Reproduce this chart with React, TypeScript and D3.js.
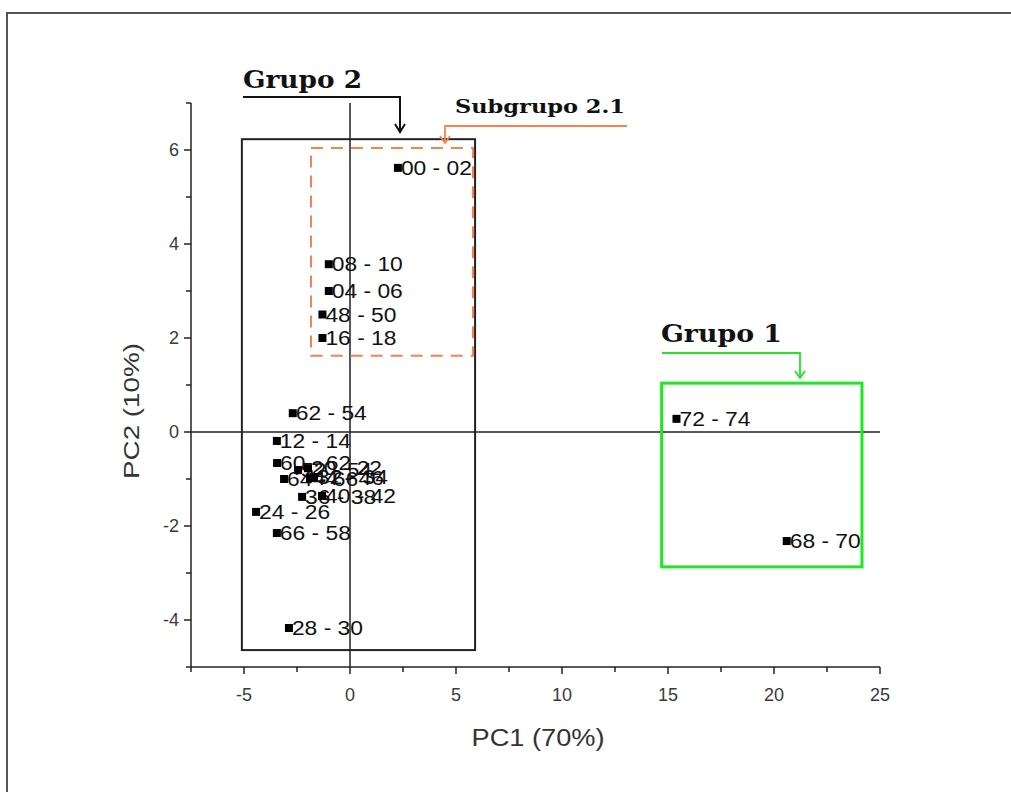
import React from "react";
import * as d3 from "d3";

const pointLabels = [
  "00 - 02", "08 - 10", "04 - 06", "48 - 50", "16 - 18",
  "62 - 54", "12 - 14", "60 - 62", "52 - 54", "20 - 22", "64 - 66", "44 - 46", "32 - 34",
  "36 - 38", "40 - 42", "24 - 26", "66 - 58", "28 - 30", "72 - 74", "68 - 70",
];
const pc1Values = [
  2.26, -1.0, -1.0, -1.3, -1.3,
  -2.7, -3.45, -3.44, -2.45, -1.98, -3.11, -1.89, -1.7,
  -2.26, -1.32, -4.43, -3.45, -2.88, 15.4, 20.6,
];
const pc2Values = [
  5.62, 3.57, 3.0, 2.5, 2.0,
  0.4, -0.19, -0.66, -0.81, -0.77, -1.0, -0.98, -0.96,
  -1.38, -1.36, -1.7, -2.15, -4.17, 0.28, -2.32,
];

const xTicks = [-5, 0, 5, 10, 15, 20, 25];
const xMinorTicks = [-7.5, -2.5, 2.5, 7.5, 12.5, 17.5, 22.5];
const yTicks = [-4, -2, 0, 2, 4, 6];
const yMinorTicks = [-5, -3, -1, 1, 3, 5, 7];

// group boxes in data units: [x0, x1, y0, y1]
const grupo2Box = [-5.1, 5.9, -4.64, 6.23];
const subgrupoBox = [-1.84, 5.8, 1.62, 6.04];
const grupo1Box = [14.7, 24.15, -2.87, 1.04];

export default function App() {
  const x = d3.scaleLinear().domain([-7.5, 25]).range([191, 880]);
  const y = d3.scaleLinear().domain([-5, 7]).range([667, 103]);
  const font = "'Liberation Sans', Arial, sans-serif";
  const serif = "'DejaVu Serif', 'Liberation Serif', serif";

  const boxRect = (b: number[]) => ({
    x: x(b[0]),
    y: y(b[3]),
    width: x(b[1]) - x(b[0]),
    height: y(b[2]) - y(b[3]),
  });
  const g2 = boxRect(grupo2Box);
  const sg = boxRect(subgrupoBox);
  const g1 = boxRect(grupo1Box);
  const fmt = (t: number) => (t < 0 ? "-" + Math.abs(t) : String(t));

  return (
    <svg
      width={1011}
      height={792}
      style={{ position: "absolute", left: 0, top: 0, background: "#fff" }}
    >
      {/* outer frame */}
      <path d="M7,792 L7,13 L1011,13" fill="none" stroke="#555" strokeWidth={2} />

      {/* zero lines */}
      <line x1={x(0)} x2={x(0)} y1={y(7)} y2={y(-5)} stroke="#222" strokeWidth={1.5} />
      <line x1={x(-7.5)} x2={x(25)} y1={y(0)} y2={y(0)} stroke="#222" strokeWidth={1.5} />

      {/* axes */}
      <line x1={x(-7.5)} x2={x(-7.5)} y1={y(7)} y2={y(-5)} stroke="#222" strokeWidth={1.5} />
      <line x1={x(-7.5)} x2={x(25)} y1={y(-5)} y2={y(-5)} stroke="#222" strokeWidth={1.5} />
      {xTicks.map((t) => (
        <g key={"xt" + t}>
          <line x1={x(t)} x2={x(t)} y1={y(-5)} y2={y(-5) + 7} stroke="#222" strokeWidth={1.5} />
          <text x={x(t)} y={y(-5) + 34} textAnchor="middle" fontFamily={font} fontSize={18} fill="#3a3a3a">
            {fmt(t)}
          </text>
        </g>
      ))}
      {xMinorTicks.map((t) => (
        <line key={"xm" + t} x1={x(t)} x2={x(t)} y1={y(-5)} y2={y(-5) + 5} stroke="#222" strokeWidth={1.5} />
      ))}
      {yTicks.map((t) => (
        <g key={"yt" + t}>
          <line x1={x(-7.5) - 7} x2={x(-7.5)} y1={y(t)} y2={y(t)} stroke="#222" strokeWidth={1.5} />
          <text x={x(-7.5) - 12} y={y(t) + 6} textAnchor="end" fontFamily={font} fontSize={18} fill="#3a3a3a">
            {fmt(t)}
          </text>
        </g>
      ))}
      {yMinorTicks.map((t) => (
        <line key={"ym" + t} x1={x(-7.5) - 5} x2={x(-7.5)} y1={y(t)} y2={y(t)} stroke="#222" strokeWidth={1.5} />
      ))}
      <text
        x={538}
        y={746}
        textAnchor="middle"
        fontFamily={font}
        fontSize={23}
        fill="#333"
        textLength={133}
        lengthAdjust="spacingAndGlyphs"
      >
        PC1 (70%)
      </text>
      <text
        transform="translate(139, 411) rotate(-90)"
        textAnchor="middle"
        fontFamily={font}
        fontSize={22}
        fill="#333"
        textLength={136}
        lengthAdjust="spacingAndGlyphs"
      >
        PC2 (10%)
      </text>

      {/* group boxes */}
      <rect {...g2} fill="none" stroke="#222" strokeWidth={2} />
      <rect {...sg} fill="none" stroke="#f4844a" strokeWidth={2} strokeDasharray="12 8" />
      <rect {...g1} fill="none" stroke="#22e622" strokeWidth={3} />

      {/* points */}
      {pointLabels.map((lab, i) => (
        <g key={lab + i}>
          <rect x={x(pc1Values[i]) - 4} y={y(pc2Values[i]) - 4} width={8} height={8} fill="#000" />
          <text
            x={x(pc1Values[i]) + 3}
            y={y(pc2Values[i]) + 7}
            fontFamily={font}
            fontSize={20}
            fill="#111"
            textLength={71}
            lengthAdjust="spacingAndGlyphs"
          >
            {lab}
          </text>
        </g>
      ))}

      {/* annotations */}
      <text x={243} y={88} fontFamily={serif} fontWeight="bold" fontSize={25} fill="#111" textLength={119} lengthAdjust="spacingAndGlyphs">
        Grupo 2
      </text>
      <path d="M243,97 L400,97 L400,132" fill="none" stroke="#111" strokeWidth={2} />
      <path d="M395,124 L400,132 L405,124" fill="none" stroke="#111" strokeWidth={2} />

      <text x={455} y={113} fontFamily={serif} fontWeight="bold" fontSize={19} fill="#111" textLength={170} lengthAdjust="spacingAndGlyphs">
        Subgrupo 2.1
      </text>
      <path d="M627,126 L445,126 L445,143" fill="none" stroke="#f4844a" strokeWidth={1.8} />
      <path d="M440,136 L445,143 L450,136" fill="none" stroke="#f4844a" strokeWidth={1.8} />

      <text x={661} y={342} fontFamily={serif} fontWeight="bold" fontSize={25} fill="#111" textLength={121} lengthAdjust="spacingAndGlyphs">
        Grupo 1
      </text>
      <path d="M662,353 L800,353 L800,378" fill="none" stroke="#22e622" strokeWidth={1.8} />
      <path d="M795,371 L800,378 L805,371" fill="none" stroke="#22e622" strokeWidth={1.8} />
    </svg>
  );
}
